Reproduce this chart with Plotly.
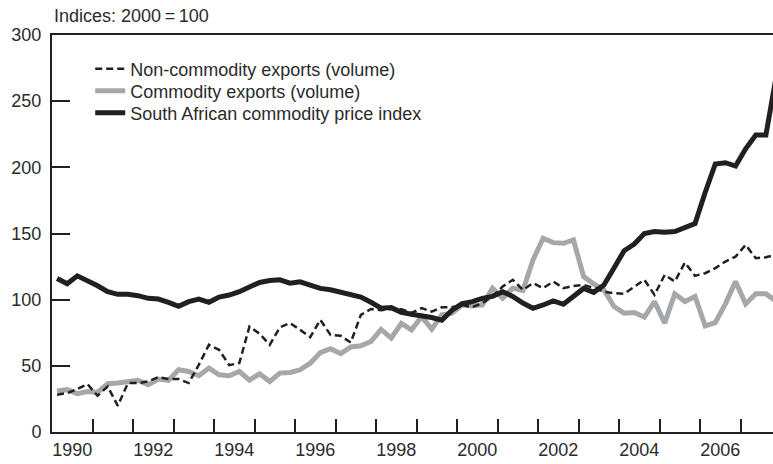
import plotly.graph_objects as go

# Quarterly observations 1990Q1 .. 2007Q4
quarters = [f"{y}Q{q}" for y in range(1990, 2008) for q in range(1, 5)]

non_commodity = [28.2, 29.4, 32.4, 36.2, 27.4, 34.4, 19.8, 37.0, 37.0, 38.2, 41.5, 40.0,
                 40.0, 37.0, 50.8, 65.9, 62.1, 50.5, 52.1, 79.7, 74.2, 65.9, 79.0, 82.3,
                 77.2, 71.7, 84.8, 73.4, 72.7, 67.6, 88.5, 93.0, 92.0, 93.0, 92.8, 90.0,
                 93.6, 91.0, 94.3, 94.3, 96.0, 94.3, 97.4, 102.4, 109.9, 115.0, 107.4, 112.5,
                 108.7, 113.7, 108.7, 110.4, 111.0, 109.0, 106.0, 104.9, 104.4, 109.4, 115.0, 103.6,
                 118.7, 113.7, 128.0, 118.0, 120.0, 123.8, 128.8, 132.5, 141.4, 131.3, 132.0, 134.0]

commodity = [31.0, 32.0, 29.0, 30.5, 30.0, 36.5, 37.0, 38.0, 39.0, 35.7, 40.0, 39.0,
             47.0, 45.7, 42.5, 48.3, 43.2, 42.5, 45.7, 39.2, 44.0, 38.2, 44.5, 45.0,
             47.0, 52.0, 60.0, 63.0, 59.3, 64.2, 65.1, 68.4, 77.5, 71.0, 82.0, 77.2,
             87.2, 77.7, 88.5, 89.8, 96.0, 95.3, 96.0, 108.7, 101.1, 108.7, 106.9, 130.0,
             146.4, 143.1, 142.6, 145.1, 117.4, 111.9, 107.4, 94.8, 89.8, 90.3, 86.8, 98.6,
             82.3, 104.4, 98.6, 102.4, 80.2, 82.7, 96.8, 113.7, 96.8, 104.4, 104.4, 99.0]

price_index = [116.0, 112.0, 118.0, 114.5, 110.5, 106.0, 104.0, 104.0, 103.0, 101.0, 100.5, 98.0,
               95.0, 98.5, 100.5, 98.0, 102.0, 103.5, 106.0, 109.5, 113.0, 114.5, 115.0, 112.5,
               113.5, 111.0, 108.5, 107.5, 105.5, 104.0, 102.0, 98.0, 93.5, 94.0, 90.5, 89.0,
               88.0, 86.5, 84.5, 92.0, 97.0, 98.5, 101.0, 102.5, 106.0, 102.5, 97.5, 93.5,
               96.0, 99.0, 96.5, 102.5, 108.5, 105.5, 111.0, 124.0, 137.0, 142.0, 150.0, 151.5,
               151.0, 151.5, 154.5, 157.5, 181.0, 202.5, 203.5, 201.0, 214.0, 224.5, 224.5, 268.0]

year_labels = ["1990", "1992", "1994", "1996", "1998", "2000", "2002", "2004", "2006"]
y_ticks = [0, 50, 100, 150, 200, 250, 300]

# decimal time at quarter midpoints
t = [int(q[:4]) + (int(q[-1]) - 0.5) / 4 for q in quarters]

INK = "#231f20"
TXT = "#2b2b2b"
GREY = "#a5a7aa"
FONT = "Liberation Sans, Arial, sans-serif"

LEG_X = 0.053


def leg(ypix):
    return dict(x=LEG_X, y=(432 - ypix) / 397, xanchor="left", yanchor="middle",
                bgcolor="rgba(0,0,0,0)", font=dict(size=18, color=TXT, family=FONT),
                itemwidth=30)


fig = go.Figure()
fig.add_trace(go.Scatter(x=t, y=commodity, mode="lines", name="Commodity exports (volume)",
                         line=dict(color=GREY, width=5), legend="legend2"))
fig.add_trace(go.Scatter(x=t, y=price_index, mode="lines", name="South African commodity price index",
                         line=dict(color=INK, width=5), legend="legend3"))
fig.add_trace(go.Scatter(x=t, y=non_commodity, mode="lines", name="Non-commodity exports (volume)",
                         line=dict(color=INK, width=2.5, dash="7px,4px"), legend="legend"))

fig.update_layout(
    width=773, height=464,
    margin=dict(l=52, r=0, t=35, b=32),
    plot_bgcolor="white", paper_bgcolor="white",
    font=dict(family=FONT, size=18, color=TXT),
    showlegend=True,
    legend=leg(69),
    legend2=leg(91),
    legend3=leg(113),
    xaxis=dict(range=[1990, 2007.8], automargin=False,
               tickvals=[int(s) + 0.5 for s in year_labels], ticktext=year_labels,
               ticks="", showline=True, linecolor=INK, linewidth=2, mirror=True,
               showgrid=False, zeroline=False, tickfont=dict(size=18, color=TXT),
               minor=dict(tickvals=list(range(1991, 2008)), ticks="inside",
                          ticklen=13, tickwidth=2, tickcolor=INK, showgrid=False)),
    yaxis=dict(range=[0, 300], automargin=False, tickvals=y_ticks, ticks="inside", ticklen=18,
               tickwidth=2, tickcolor=INK, showline=True, linecolor=INK, linewidth=2,
               showgrid=False, zeroline=False, tickfont=dict(size=18, color=TXT),
               ticklabelstandoff=5),
)

fig.add_annotation(text="Indices: 2000\u2009=\u2009100", xref="paper", yref="paper",
                   x=0, y=1, xanchor="left", yanchor="middle", yshift=19,
                   showarrow=False, font=dict(size=18, color=TXT))

fig.write_html("out.html", config={"displayModeBar": False},
               post_script="document.body.style.margin='0';document.body.style.overflow='hidden';")
